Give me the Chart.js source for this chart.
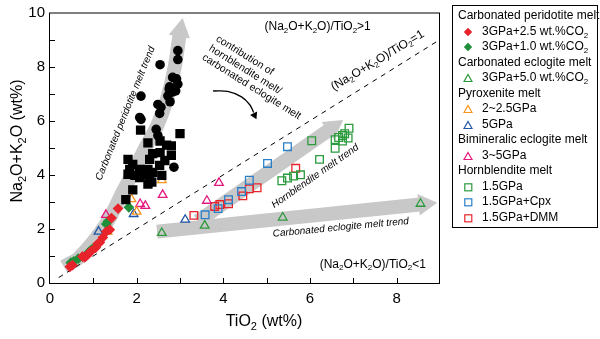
<!DOCTYPE html>
<html>
<head>
<meta charset="utf-8">
<script src="https://cdn.jsdelivr.net/npm/chart.js@4/dist/chart.umd.min.js"></script>
<style>
  body { margin: 0; background: #fff; }
  #wrap { position: relative; width: 600px; height: 339px; }
  #c { position: absolute; left: 0; top: 0; }
  #legend {
    position: absolute; left: 452px; top: 5px; width: 146px; height: 223px;
    box-sizing: border-box; border: 1px solid #000; padding-top: 2px;
    font-family: "Liberation Sans", Arial, sans-serif; font-size: 12px; color: #000;
  }
  #legend .row { height: 15.5px; line-height: 15.5px; white-space: nowrap; position: relative; }
  #legend .head { padding-left: 5px; }
  #legend .item { padding-left: 29px; }
  #legend svg { position: absolute; left: 10px; top: 3px; }
  #legend sub { font-size: 8px; vertical-align: -3px; line-height: 0; }
</style>
</head>
<body>
<div id="wrap">
  <canvas id="c" width="600" height="339"></canvas>
  <div id="legend"></div>
</div>
<script>
// ---- data (TiO2 wt%, Na2O+K2O wt%) ----
const blackCircles = [[2.95,8.59],[2.95,8.26],[2.54,8.07],[2.10,6.91],[2.83,7.60],[2.92,7.55],[2.75,7.17],
  [2.95,7.35],[2.82,7.06],[2.77,6.70],[2.90,7.10],[2.76,7.25],[2.72,6.92],[2.49,6.60],[2.56,6.50],
  [2.53,6.27],[2.07,6.12],[2.10,6.05],[2.45,5.68],[2.49,5.45],[2.86,4.28]];
const blackSquares = [[2.09,5.65],[3.00,5.52],[2.26,5.18],[2.54,5.25],[2.69,5.10],[2.80,5.07],[2.80,4.72],
  [2.37,4.78],[2.30,4.57],[2.54,4.82],[2.65,4.53],[1.80,4.57],[1.91,4.38],[2.07,4.20],[2.19,4.09],
  [1.84,4.20],[1.80,4.02],[1.96,3.98],[2.12,4.02],[2.26,4.20],[2.37,4.09],[2.53,4.35],[2.35,3.73],
  [2.58,3.98],[1.91,3.44],[1.75,3.08],[2.07,3.90],[2.30,3.85],[2.26,3.66]];
const perid25 = [[0.46,0.60],[0.52,0.66],[0.75,0.98],[0.80,0.95],[0.85,1.02],[0.90,1.10],[0.95,1.18],
  [1.05,1.30],[1.10,1.45],[1.15,1.50],[1.22,1.68],[1.30,1.90],[1.38,1.97],[1.42,2.40],[1.57,2.75]];
const perid10 = [[0.48,0.75],[0.55,0.80],[0.65,0.90],[0.90,1.15],[0.95,1.22],[1.00,1.28],[1.05,1.32],
  [1.30,2.18],[1.34,2.28],[1.82,2.80]];
const eclogite5 = [[2.58,1.85],[3.57,2.12],[5.37,2.42],[8.55,2.93]];
const pyrox25 = [[1.33,1.90],[1.88,3.10],[2.00,2.64],[2.30,3.88],[2.58,3.80]];
const pyrox5 = [[1.12,1.90],[1.93,2.55],[3.12,2.34]];
const bimin = [[1.29,2.52],[2.08,2.92],[2.20,2.85],[2.60,3.26],[3.62,3.04],[3.90,3.70]];
const hbl15 = [[5.35,3.78],[5.48,3.88],[5.62,3.95],[5.78,4.00],[6.04,5.26],[6.22,4.57],[6.58,4.98],
  [6.58,5.30],[6.66,5.38],[6.75,5.25],[6.75,5.45],[6.80,5.52],[6.88,5.36],[6.90,5.72]];
const hblCpx = [[3.58,2.52],[3.88,2.75],[4.12,3.08],[4.42,3.38],[4.60,3.80],[5.02,4.42],[5.48,5.04]];
const hblDmm = [[3.32,2.50],[3.80,2.83],[3.92,2.90],[4.12,2.93],[4.45,3.22],[4.60,3.48],[4.78,3.52],[5.67,4.24]];

// trend bands, arrow heads and the ratio line
const peridTrend = [[0.32,0.60],[0.67,0.94],[1.29,2.17],[1.68,3.37],[1.95,4.20],[2.20,5.00],[2.47,5.80],[2.70,6.80],[2.88,8.00],[3.00,9.30]];
const hblTrend = [[3.41,2.28],[6.53,5.76]];
const eclTrend = [[2.47,1.90],[8.65,2.92]];
const trendHeads = [[3.01,9.34,10],[6.53,5.76,55],[8.65,2.92,84]];
const ratioLine = [[0.2,0.2],[8.95,8.95]];
const curveArrow = [[3.76,7.10],[4.10,7.08],[4.42,6.88],[4.61,6.59],[4.70,6.30]];
const curveHead = [[4.72,6.20,155]];

const xTicks = [0, 2, 4, 6, 8];
const yTicks = [0, 2, 4, 6, 8, 10];

const FONT = '"Liberation Sans", Arial, Helvetica, sans-serif';
const GRAY = '#c8c8c8';
const C = {
  red: '#e8232b', greenD: '#1f8f3a', green: '#2b9a3c', orange: '#f7941d',
  blueT: '#2156a6', blueS: '#2a7fc9', magenta: '#e6187e'
};

const notes = [
  { t: '(Na_2O+K_2O)/TiO_2>1', x: 4.95, y: 9.46, rot: 0, size: 12, align: 'left' },
  { t: '(Na_2O+K_2O)/TiO_2=1', x: 7.56, y: 8.22, rot: -31, size: 12, align: 'center' },
  { t: '(Na_2O+K_2O)/TiO_2<1', x: 7.45, y: 0.69, rot: 0, size: 12, align: 'center' },
  { t: 'contribution of', x: 3.85, y: 9.06, rot: 32, size: 10.5, align: 'left' },
  { t: 'hornblendite melt/', x: 3.69, y: 8.70, rot: 32, size: 10.5, align: 'left' },
  { t: 'carbonated eclogite melt', x: 3.53, y: 8.37, rot: 32, size: 10.5, align: 'left' },
  { t: 'Carbonated peridotite melt trend', x: 1.74, y: 6.27, rot: -68, size: 10, align: 'center', italic: true },
  { t: 'Hornblendite melt trend', x: 6.12, y: 3.95, rot: -35, size: 10, align: 'center', italic: true },
  { t: 'Carbonated eclogite melt trend', x: 6.71, y: 2.05, rot: -5.4, size: 10, align: 'center', italic: true }
];

const legendRows = [
  ['head', 'Carbonated peridotite melt'],
  ['diamond', C.red, '3GPa+2.5 wt.%CO<sub>2</sub>'],
  ['diamond', C.greenD, '3GPa+1.0 wt.%CO<sub>2</sub>'],
  ['head', 'Carbonated eclogite melt'],
  ['tri', C.green, '3GPa+5.0 wt.%CO<sub>2</sub>'],
  ['head', 'Pyroxenite melt'],
  ['tri', C.orange, '2~2.5GPa'],
  ['tri', C.blueT, '5GPa'],
  ['head', 'Bimineralic eclogite melt'],
  ['tri', C.magenta, '3~5GPa'],
  ['head', 'Hornblendite melt'],
  ['square', C.green, '1.5GPa'],
  ['square', C.blueS, '1.5GPa+Cpx'],
  ['square', C.red, '1.5GPa+DMM']
];

const pts = arr => arr.map(([x, y]) => ({ x, y }));

function markers(arr, style, color, radius, filled) {
  return {
    data: pts(arr), pointStyle: style, pointRadius: radius,
    backgroundColor: filled ? color : 'rgba(0,0,0,0)',
    borderColor: color, borderWidth: filled ? 0 : 1.3, order: 0
  };
}

function band(arr, tension) {
  return {
    data: pts(arr), showLine: true, borderColor: GRAY, borderWidth: 14,
    pointRadius: 0, tension: tension, borderCapStyle: 'butt', order: 20
  };
}

// draws text with "_x" as a subscript character
function richText(ctx, str, size, italic) {
  const parts = [];
  for (let i = 0; i < str.length; i++) {
    if (str[i] === '_') { parts.push([str[i + 1], true]); i++; }
    else if (parts.length && !parts[parts.length - 1][1]) parts[parts.length - 1][0] += str[i];
    else parts.push([str[i], false]);
  }
  const main = (italic ? 'italic ' : '') + size + 'px ' + FONT;
  const sub = (italic ? 'italic ' : '') + Math.round(size * 0.68) + 'px ' + FONT;
  let w = 0;
  parts.forEach(p => { ctx.font = p[1] ? sub : main; p.push(ctx.measureText(p[0]).width); w += p[2]; });
  return { parts, w, draw(x0) {
    let x = x0;
    parts.forEach(p => {
      ctx.font = p[1] ? sub : main;
      ctx.fillText(p[0], x, p[1] ? size * 0.3 : 0);
      x += p[2];
    });
  } };
}

const decor = {
  id: 'decor',
  afterDraw(chart) {
    const { ctx, chartArea: a, scales: { x, y } } = chart;
    ctx.save();
    ctx.strokeStyle = '#000';
    ctx.lineWidth = 1;
    ctx.strokeRect(a.left - 0.5, a.top + 0.5, a.right - a.left, a.bottom - a.top);
    ctx.beginPath();
    for (let v = 1; v < 9; v++) {
      const px = Math.round(x.getPixelForValue(v)) + 0.5;
      ctx.moveTo(px, a.bottom); ctx.lineTo(px, a.bottom - 5);
    }
    for (let v = 1; v < 10; v++) {
      const py = Math.round(y.getPixelForValue(v)) + 0.5;
      ctx.moveTo(a.left, py); ctx.lineTo(a.left + 5, py);
    }
    ctx.stroke();

    ctx.fillStyle = '#000';
    ctx.textBaseline = 'middle';
    notes.forEach(n => {
      const r = richText(ctx, n.t, n.size, n.italic);
      ctx.save();
      ctx.translate(x.getPixelForValue(n.x), y.getPixelForValue(n.y));
      ctx.rotate(n.rot * Math.PI / 180);
      r.draw(n.align === 'left' ? 0 : -r.w / 2);
      ctx.restore();
    });

    // axis titles
    const xt = richText(ctx, 'TiO_2 (wt%)', 16, false);
    ctx.save();
    ctx.translate(264, 322);
    xt.draw(-xt.w / 2);
    ctx.restore();
    const yt = richText(ctx, 'Na_2O+K_2O (wt%)', 16, false);
    ctx.save();
    ctx.translate(18, 141);
    ctx.rotate(-Math.PI / 2);
    yt.draw(-yt.w / 2);
    ctx.restore();
    ctx.restore();
  }
};

const datasets = [
  band(peridTrend, 0.3),
  band(hblTrend, 0),
  band(eclTrend, 0),
  ...trendHeads.map(([hx, hy, rot]) => ({
    data: [{ x: hx, y: hy }], pointStyle: 'triangle', pointRadius: 12.5, rotation: rot,
    backgroundColor: GRAY, borderWidth: 0, order: 19
  })),
  { data: pts(ratioLine), showLine: true, borderColor: '#000', borderWidth: 1, borderDash: [5, 5], pointRadius: 0, order: 10 },
  { data: pts(curveArrow), showLine: true, borderColor: '#000', borderWidth: 1.3, pointRadius: 0, tension: 0.4, order: 10 },
  ...curveHead.map(([hx, hy, rot]) => ({
    data: [{ x: hx, y: hy }], pointStyle: 'triangle', pointRadius: 4.5, rotation: rot,
    backgroundColor: '#000', borderWidth: 0, order: 10
  })),
  markers(blackSquares, 'rect', '#000', 6.6, true),
  markers(blackCircles, 'circle', '#000', 4.8, true),
  markers(perid25, 'rectRot', C.red, 5.4, true),
  markers(perid10, 'rectRot', C.greenD, 5.4, true),
  markers(eclogite5, 'triangle', C.green, 5, false),
  markers(pyrox25, 'triangle', C.orange, 5, false),
  markers(pyrox5, 'triangle', C.blueT, 5, false),
  markers(bimin, 'triangle', C.magenta, 5, false),
  markers(hbl15, 'rect', C.green, 5.4, false),
  markers(hblCpx, 'rect', C.blueS, 5.4, false),
  markers(hblDmm, 'rect', C.red, 5.4, false)
];

new Chart(document.getElementById('c'), {
  type: 'scatter',
  data: { datasets },
  options: {
    responsive: false,
    animation: false,
    devicePixelRatio: 1,
    events: [],
    layout: { padding: { top: 7, right: 160, left: 0, bottom: 0 } },
    plugins: { legend: { display: false }, tooltip: { enabled: false } },
    scales: {
      x: {
        type: 'linear', min: 0, max: 9,
        afterFit: s => { s.height = 56; s.paddingLeft = 0; s.paddingRight = 0; },
        grid: { display: false, drawTicks: false }, border: { display: false },
        afterBuildTicks: s => { s.ticks = xTicks.map(v => ({ value: v })); },
        ticks: { padding: 7, maxRotation: 0, autoSkip: false, color: '#000', font: { size: 15, family: FONT } }
      },
      y: {
        type: 'linear', min: 0, max: 10,
        afterFit: s => { s.width = 50; s.paddingTop = 0; s.paddingBottom = 0; },
        grid: { display: false, drawTicks: false }, border: { display: false },
        afterBuildTicks: s => { s.ticks = yTicks.map(v => ({ value: v })); },
        ticks: { padding: 5, autoSkip: false, color: '#000', font: { size: 15, family: FONT } }
      }
    }
  },
  plugins: [decor]
});

// legend box
const leg = document.getElementById('legend');
legendRows.forEach(r => {
  const row = document.createElement('div');
  row.className = 'row ' + (r[0] === 'head' ? 'head' : 'item');
  if (r[0] === 'head') { row.textContent = r[1]; }
  else {
    let shape = '';
    if (r[0] === 'diamond') shape = `<polygon points="5,0.8 9.2,5 5,9.2 0.8,5" fill="${r[1]}"/>`;
    if (r[0] === 'tri') shape = `<polygon points="5,1.5 9,8.5 1,8.5" fill="none" stroke="${r[1]}" stroke-width="1.2"/>`;
    if (r[0] === 'square') shape = `<rect x="1.8" y="1.8" width="7" height="7" fill="none" stroke="${r[1]}" stroke-width="1.2"/>`;
    row.innerHTML = `<svg width="10" height="10">${shape}</svg>` + r[2];
  }
  leg.appendChild(row);
});
</script>
</body>
</html>
